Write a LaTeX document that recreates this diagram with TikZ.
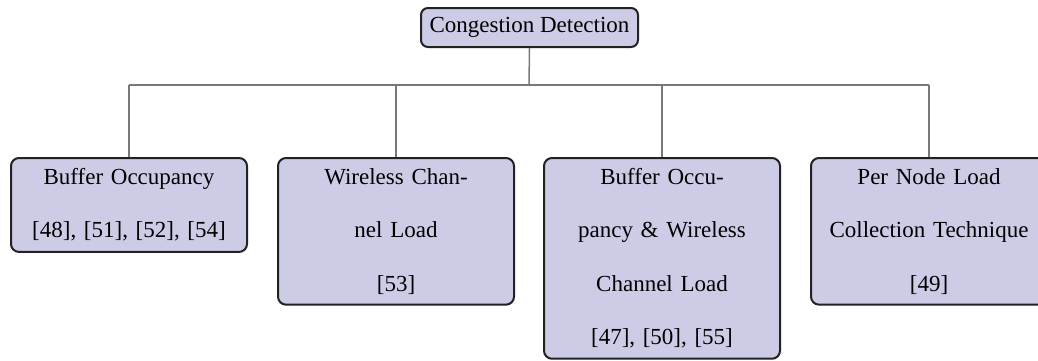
\documentclass[tikz,border=0pt]{standalone}
\usepackage{fontspec}
\setmainfont{Liberation Serif}
\usetikzlibrary{positioning}
\definecolor{boxfill}{RGB}{205,204,230}
\definecolor{boxline}{RGB}{34,34,34}
\definecolor{wire}{RGB}{120,120,120}
\tikzset{
  rootbox/.style={
    draw=boxline, fill=boxfill, line width=1pt, rounded corners=3.5pt,
    minimum width=108.5pt, minimum height=19.5pt, inner sep=0pt,
    font=\fontsize{11.5pt}{26.7pt}\selectfont,
  },
  catbox/.style={
    draw=boxline, fill=boxfill, line width=1pt, rounded corners=4pt,
    anchor=north, text width=110pt, inner xsep=4pt, inner ysep=5.2pt,
    align=center, font=\fontsize{11.5pt}{26.7pt}\selectfont,
  },
  wire/.style={draw=wire, line width=0.75pt},
}

\begin{document}
\begin{tikzpicture}[x=0.5pt, y=0.5pt]

        \clip (0,0) rectangle (1038,360);

        % top of the tree
        \node[rootbox] (detect) at (529.5,332.5) {Congestion Detection};
        \coordinate (bus) at (529,275);

        % the four kinds
        \node[catbox] (buffer) at (129,203) {Buffer Occupancy\\{}[48], [51], [52], [54]};
        \node[catbox] (channel) at (396,203) {Wireless Chan-\\nel Load\\{}[53]};
        \node[catbox] (both) at (662,203) {Buffer Occu-\\pancy \& Wireless\\Channel Load\\{}[47], [50], [55]};
        \node[catbox] (pernode) at (929,203) {Per Node Load\\Collection Technique\\{}[49]};

        % connectors
        \draw[wire] (detect.south) -- (bus);
        \draw[wire] (buffer.north |- bus) -- (pernode.north |- bus);
        \foreach \kind in {buffer, channel, both, pernode}
                \draw[wire] (\kind.north |- bus) -- (\kind.north);

\end{tikzpicture}
\end{document}
